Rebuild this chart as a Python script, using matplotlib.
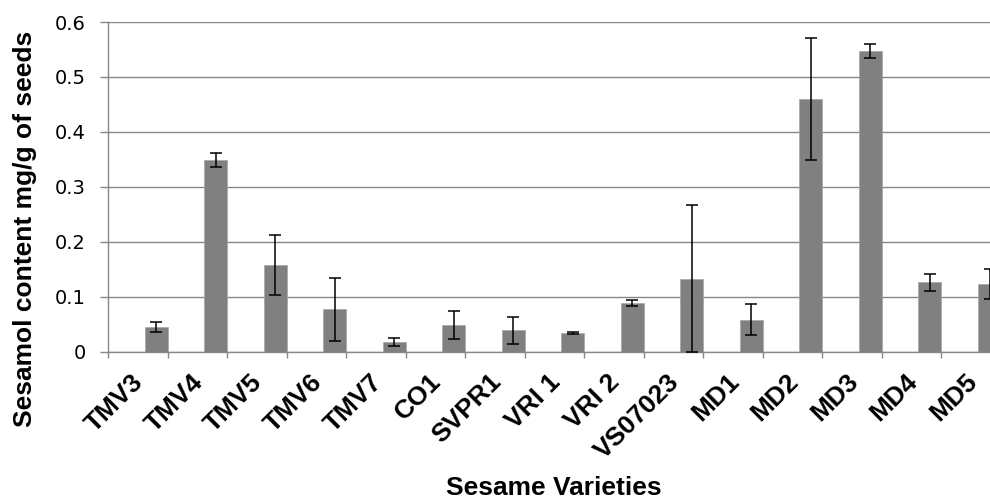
import matplotlib
matplotlib.use("Agg")
import matplotlib.pyplot as plt
from matplotlib.transforms import ScaledTranslation
import numpy as np

categories = ["TMV3", "TMV4", "TMV5", "TMV6", "TMV7", "CO1", "SVPR1", "VRI 1",
              "VRI 2", "VS07023", "MD1", "MD2", "MD3", "MD4", "MD5"]
values = [0.045, 0.349, 0.158, 0.077, 0.018, 0.049, 0.039, 0.034,
          0.089, 0.133, 0.058, 0.460, 0.547, 0.126, 0.123]
errors = [0.009, 0.013, 0.055, 0.058, 0.007, 0.025, 0.025, 0.001,
          0.005, 0.134, 0.028, 0.111, 0.0125, 0.015, 0.027]
yticks = [0, 0.1, 0.2, 0.3, 0.4, 0.5, 0.6]
ytick_labels = ["0", "0.1", "0.2", "0.3", "0.4", "0.5", "0.6"]

W, H = 990, 499
fig = plt.figure(figsize=(W / 100, H / 100), dpi=100)
ax_left, ax_right, ax_top, ax_bot = 108, 1001, 22, 351.7
ax = fig.add_axes([ax_left / W, (H - ax_bot) / H, (ax_right - ax_left) / W, (ax_bot - ax_top) / H])

grid_c = "#878787"
bar_w = 0.386
x = np.arange(len(categories))
xb = x + 0.5 - bar_w / 2
ax.bar(xb, values, width=bar_w, color="#808080", edgecolor="#a6a6a6", linewidth=0.5, zorder=3)
ax.errorbar(xb, values, yerr=errors, fmt="none", ecolor="black", elinewidth=1.1,
            capsize=4, capthick=1.1, zorder=4)

ax.set_xlim(-0.5, len(categories) - 0.5)
ax.set_ylim(0, 0.6)
ax.set_yticks(yticks)
ax.set_yticklabels(ytick_labels, fontfamily="DejaVu Sans", fontsize=14)
ax.yaxis.grid(True, color=grid_c, linewidth=1.0, zorder=0)
ax.set_axisbelow(True)

for s in ["top", "right"]:
    ax.spines[s].set_visible(False)
for s in ["left", "bottom"]:
    ax.spines[s].set_color(grid_c)
    ax.spines[s].set_linewidth(1.0)

ax.tick_params(axis="y", length=5.8, width=1.0, color=grid_c, pad=10, labelcolor="black")

ax.set_xticks(np.arange(len(categories) + 1) - 0.5)
ax.set_xticklabels([])
ax.tick_params(axis="x", which="major", length=4.5, width=1.0, color=grid_c)
ax.set_xticks(x, minor=True)
ax.set_xticklabels(categories, minor=True, rotation=45, ha="right", va="center",
                   rotation_mode="anchor", fontfamily="Liberation Sans",
                   fontweight="bold", fontsize=19)
ax.tick_params(axis="x", which="minor", length=0, pad=19)
for lab in ax.get_xticklabels(minor=True):
    lab.set_transform(lab.get_transform() + ScaledTranslation(0.02, 0, fig.dpi_scale_trans))

fig.text(554 / W, 4 / H, "Sesame Varieties", ha="center", va="baseline",
         fontfamily="Liberation Sans", fontweight="bold", fontsize=19)
fig.text(25 / W, (H - 228.5) / H, "Sesamol content mg/g of seeds", rotation=90,
         ha="center", va="center", fontfamily="Liberation Sans", fontweight="bold",
         fontsize=19)

fig.savefig("out.png", dpi=100)
